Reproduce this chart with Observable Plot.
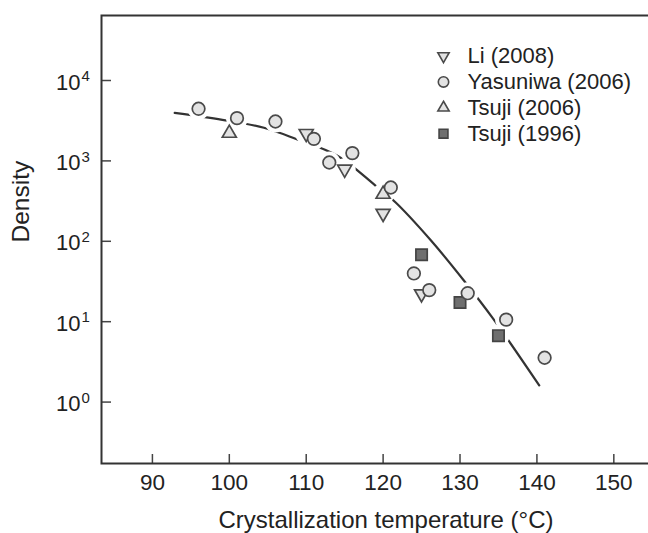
<!DOCTYPE html>
<html>
<head>
<meta charset="utf-8">
<script src="https://cdn.jsdelivr.net/npm/d3@7"></script>
<script src="https://cdn.jsdelivr.net/npm/@observablehq/plot@0.6"></script>
<style>
html, body { margin: 0; padding: 0; background: #fff; overflow: hidden; }
#chart svg { display: block; }
</style>
</head>
<body>
<div id="chart"></div>
<script>
// ---- data ----
const seriesNames = ["Li (2008)", "Yasuniwa (2006)", "Tsuji (2006)", "Tsuji (1996)"];

const liTemp = [110, 115, 120, 125];
const liDensity = [2190, 787, 222, 22.2];

const yasuniwaTemp = [96, 101, 106, 111, 113, 116, 121, 124, 126, 131, 136, 141];
const yasuniwaDensity = [4450, 3400, 3090, 1880, 955, 1250, 467, 39.8, 24.7, 22.6, 10.6, 3.56];

const tsuji2006Temp = [100, 120];
const tsuji2006Density = [2210, 385];

const tsuji1996Temp = [125, 130, 135];
const tsuji1996Density = [68, 17.3, 6.7];

// fitted trend curve
const fitTemp = [92.9, 99.1, 104.5, 108.6, 114.0, 119.0, 121.6, 126.2, 130.5, 134.3, 140.3];
const fitDensity = [3950, 3240, 2580, 1885, 1167, 494, 306, 103, 32.5, 10.9, 1.61];

const xTicks = [90, 100, 110, 120, 130, 140, 150];
const yTickExponents = [0, 1, 2, 3, 4];

const xLabel = "Crystallization temperature (°C)";
const yLabel = "Density";

// ---- build tables ----
const toPts = (T, D) => T.map((t, i) => ({t, d: D[i]}));
const li = toPts(liTemp, liDensity);
const yas = toPts(yasuniwaTemp, yasuniwaDensity);
const ts06 = toPts(tsuji2006Temp, tsuji2006Density);
const ts96 = toPts(tsuji1996Temp, tsuji1996Density);
const fit = toPts(fitTemp, fitDensity);
const allPts = [...li, ...yas, ...ts06, ...ts96];

// downward triangle symbol
const triangleDown = {
  draw(context, size) {
    const y = -Math.sqrt(size / (Math.sqrt(3) * 3));
    context.moveTo(0, -y * 2);
    context.lineTo(-Math.sqrt(3) * y, y);
    context.lineTo(Math.sqrt(3) * y, y);
    context.closePath();
  }
};

// ---- layout ----
const W = 672, H = 533, mL = 101, mR = 2, mT = 15, mB = 70;
const frameW = W - mL - mR, frameH = H - mT - mB;

const ink = "#222";
const markStroke = "#4a4a4a";
const lightFill = "#e3e3e3";
const darkFill = "#6f6f6f";

const styles = [
  {symbol: triangleDown, r: 5.2, fill: lightFill, stroke: markStroke, legendR: 4.2},
  {symbol: "circle", r: 6.3, fill: lightFill, stroke: markStroke, legendR: 5.2},
  {symbol: "triangle", r: 5.2, fill: lightFill, stroke: markStroke, legendR: 4.2},
  {symbol: "square", r: 6.4, fill: darkFill, stroke: "#444", legendR: 5.0}
];
const seriesData = [li, yas, ts06, ts96];

const legendMarks = seriesNames.flatMap((name, i) => [
  Plot.dot([name], {x: null, y: null, frameAnchor: "top-left", dx: 342, dy: 40.5 + i * 25.9,
    symbol: styles[i].symbol, r: styles[i].legendR, fill: styles[i].fill, stroke: styles[i].stroke, strokeWidth: 1.6}),
  Plot.text([name], {x: null, y: null, frameAnchor: "top-left", dx: 366, dy: 40.5 + i * 25.9,
    text: d => d, textAnchor: "start", lineAnchor: "middle", fontSize: 22, fill: ink})
]);

const drawOrder = [3, 2, 0, 1];

const chart = Plot.plot({
  width: W,
  height: H,
  marginLeft: mL,
  marginRight: mR,
  marginTop: mT,
  marginBottom: mB,
  x: {domain: [83.38, 157.37]},
  y: {type: "log", domain: [0.1722, 64350], axis: null},
  style: {
    fontFamily: "'Liberation Sans', Arial, Helvetica, sans-serif",
    fontSize: "22px",
    color: ink,
    background: "#fff",
    maxWidth: "none",
    overflow: "visible"
  },
  marks: [
    Plot.line(fit, {x: "t", y: "d", curve: "catmull-rom", stroke: "#333", strokeWidth: 2.2}),
    Plot.dot(allPts, {x: "t", y: "d", r: 11, fill: "white"}),
    ...drawOrder.map(i => Plot.dot(seriesData[i], {
      x: "t", y: "d", symbol: styles[i].symbol, r: styles[i].r,
      fill: styles[i].fill, stroke: styles[i].stroke, strokeWidth: 1.7
    })),
    Plot.tickX(xTicks, {x: d => d, insetTop: frameH - 9, stroke: "#444", strokeWidth: 1.5}),
    Plot.tickY(yTickExponents, {y: e => 10 ** e, insetRight: frameW - 10, stroke: "#444", strokeWidth: 1.5}),
    Plot.frame({stroke: "#333", strokeWidth: 2}),
    Plot.axisX({ticks: xTicks, tickSize: 0, tickPadding: 11, fontSize: 22.5, label: null, fill: ink}),
    Plot.text(yTickExponents, {y: e => 10 ** e, frameAnchor: "left", text: () => "10",
      textAnchor: "end", lineAnchor: "middle", dx: -21, dy: 2, fontSize: 22, fill: ink}),
    Plot.text(yTickExponents, {y: e => 10 ** e, frameAnchor: "left", text: e => String(e),
      textAnchor: "start", lineAnchor: "middle", dx: -20, dy: -4, fontSize: 15, fill: ink}),
    Plot.text([yLabel], {x: null, y: null, frameAnchor: "left", text: d => d, rotate: -90,
      dx: -80, dy: 3, lineAnchor: "middle", fontSize: 24.5, fill: ink}),
    Plot.text([xLabel], {x: null, y: null, frameAnchor: "bottom", text: d => d,
      dy: 57, lineAnchor: "middle", fontSize: 24, fill: ink}),
    ...legendMarks
  ]
});

document.getElementById("chart").appendChild(chart);
</script>
</body>
</html>
